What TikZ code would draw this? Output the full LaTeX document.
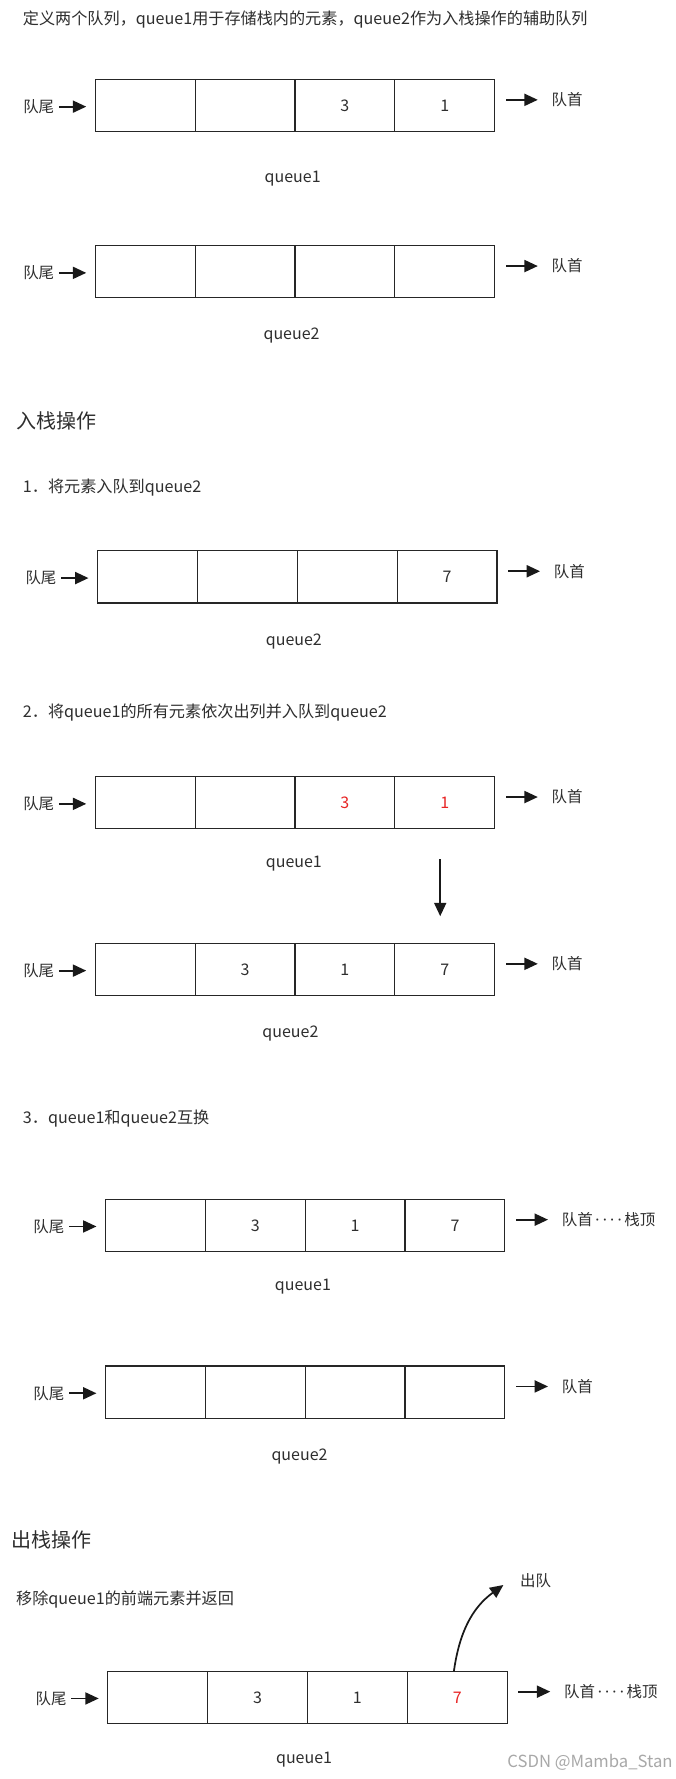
\documentclass[tikz,border=0pt]{standalone}
\usepackage{fontspec}
\setmainfont{Noto Sans CJK SC}
\newfontfamily\dotfont{Noto Sans}
\usetikzlibrary{arrows.meta}
\definecolor{txt}{HTML}{2E2E2E}
\definecolor{qred}{RGB}{232,36,36}
\definecolor{wmark}{HTML}{A8A8A8}
\tikzset{
 cell/.style={draw=black!85, line width=0.9pt, minimum width=74.88pt, minimum height=39.14pt, inner sep=0pt, outer sep=0pt, font=\fontsize{12}{14}\selectfont, text=txt},
 side/.style={inner sep=0pt, font=\fontsize{11.6}{14}\selectfont, text=txt},
 qlabel/.style={inner sep=0pt, font=\fontsize{12}{14}\selectfont, text=txt},
 para/.style={anchor=west, inner sep=0pt, font=\fontsize{12.1}{15}\selectfont, text=txt},
 heading/.style={anchor=west, inner sep=0pt, font=\fontsize{15}{18}\selectfont, text=txt},
 arr/.style={line width=1.3pt, draw=black!90, -{Triangle[length=10pt,width=9pt]}},
}
\newcommand\qrow[8]{%
 \node[cell] (#1c1) at (#2+44,#3) {#4};
 \node[cell] (#1c2) at (#2+132,#3) {#5};
 \node[cell] (#1c3) at (#2+220,#3) {#6};
 \node[cell] (#1c4) at (#2+308,#3) {#7};
 \node[side, anchor=east] (#1t) at (#2-36,#3+1) {队尾};
 \node[side, anchor=west] (#1h) at (#2+402,#3-5) {#8};
 \draw[arr, shorten <=3.4pt, shorten >=6.8pt] (#1t.east) -- (#1t.east -| #1c1.west);
 \draw[arr, shorten <=8.5pt, shorten >=10.2pt] (#1h.west -| #1c4.east) -- (#1h.west);
}
\newcommand\dd{{\dotfont\kern2pt·\kern2.4pt·\kern2.4pt·\kern2.4pt·\kern2pt}}
\newcommand\rd[1]{{\color{qred}#1}}
\begin{document}
\begin{tikzpicture}[x=0.8509pt,y=-0.8509pt]
\fill[white] (0,0) rectangle (595,1568);
\useasboundingbox (0,0) rectangle (595,1568);

\node[para] (t0) at (20,17) {定义两个队列，queue1用于存储栈内的元素，queue2作为入栈操作的辅助队列};

\qrow{A}{84}{93}{}{}{3}{1}{队首}
\node[qlabel] (l1) at (258,157) {queue1};
\qrow{B}{84}{239.5}{}{}{}{}{队首}
\node[qlabel] (l2) at (257,296) {queue2};

\node[heading] (h1) at (14,371) {入栈操作};
\node[para] (s1) at (20,430) {1．将元素入队到queue2};
\qrow{C}{86}{508.5}{}{}{}{7}{队首}
\node[qlabel] (l3) at (259,565) {queue2};

\node[para] (s2) at (20,628) {2．将queue1的所有元素依次出列并入队到queue2};
\qrow{D}{84}{707.5}{}{}{\rd{3}}{\rd{1}}{队首}
\node[qlabel] (l4) at (259,761) {queue1};
\qrow{E}{84}{854.5}{}{3}{1}{7}{队首}
\draw[arr, shorten <=23pt, shorten >=20.4pt] ([xshift=-3.4pt]Dc4.south) -- ([xshift=-3.4pt]Ec4.north);
\node[qlabel] (l5) at (256,911) {queue2};

\node[para] (s3) at (20,986) {3．queue1和queue2互换};
\qrow{F}{93}{1080}{}{3}{1}{7}{队首\dd 栈顶}
\node[qlabel] (l6) at (267,1134) {queue1};
\qrow{G}{93}{1227}{}{}{}{}{队首}
\node[qlabel] (l7) at (264,1284) {queue2};

\node[heading] (h2) at (10,1357) {出栈操作};
\node[side] (dq) at (472,1393) {出队};
\node[para] (s4) at (14,1410) {移除queue1的前端元素并返回};
\qrow{H}{95}{1496}{}{3}{1}{\rd{7}}{队首\dd 栈顶}
\draw[arr] ([xshift=-2.5pt]Hc4.north) to[out=82,in=216] ([xshift=-12.3pt,yshift=-3.4pt]dq.west);
\node[qlabel] (l8) at (268,1551) {queue1};
\node[anchor=west, inner sep=0pt, text=wmark, font=\fontsize{12.5}{14}\selectfont] (wm) at (447,1553) {CSDN @Mamba\_Stan};
\end{tikzpicture}
\end{document}
